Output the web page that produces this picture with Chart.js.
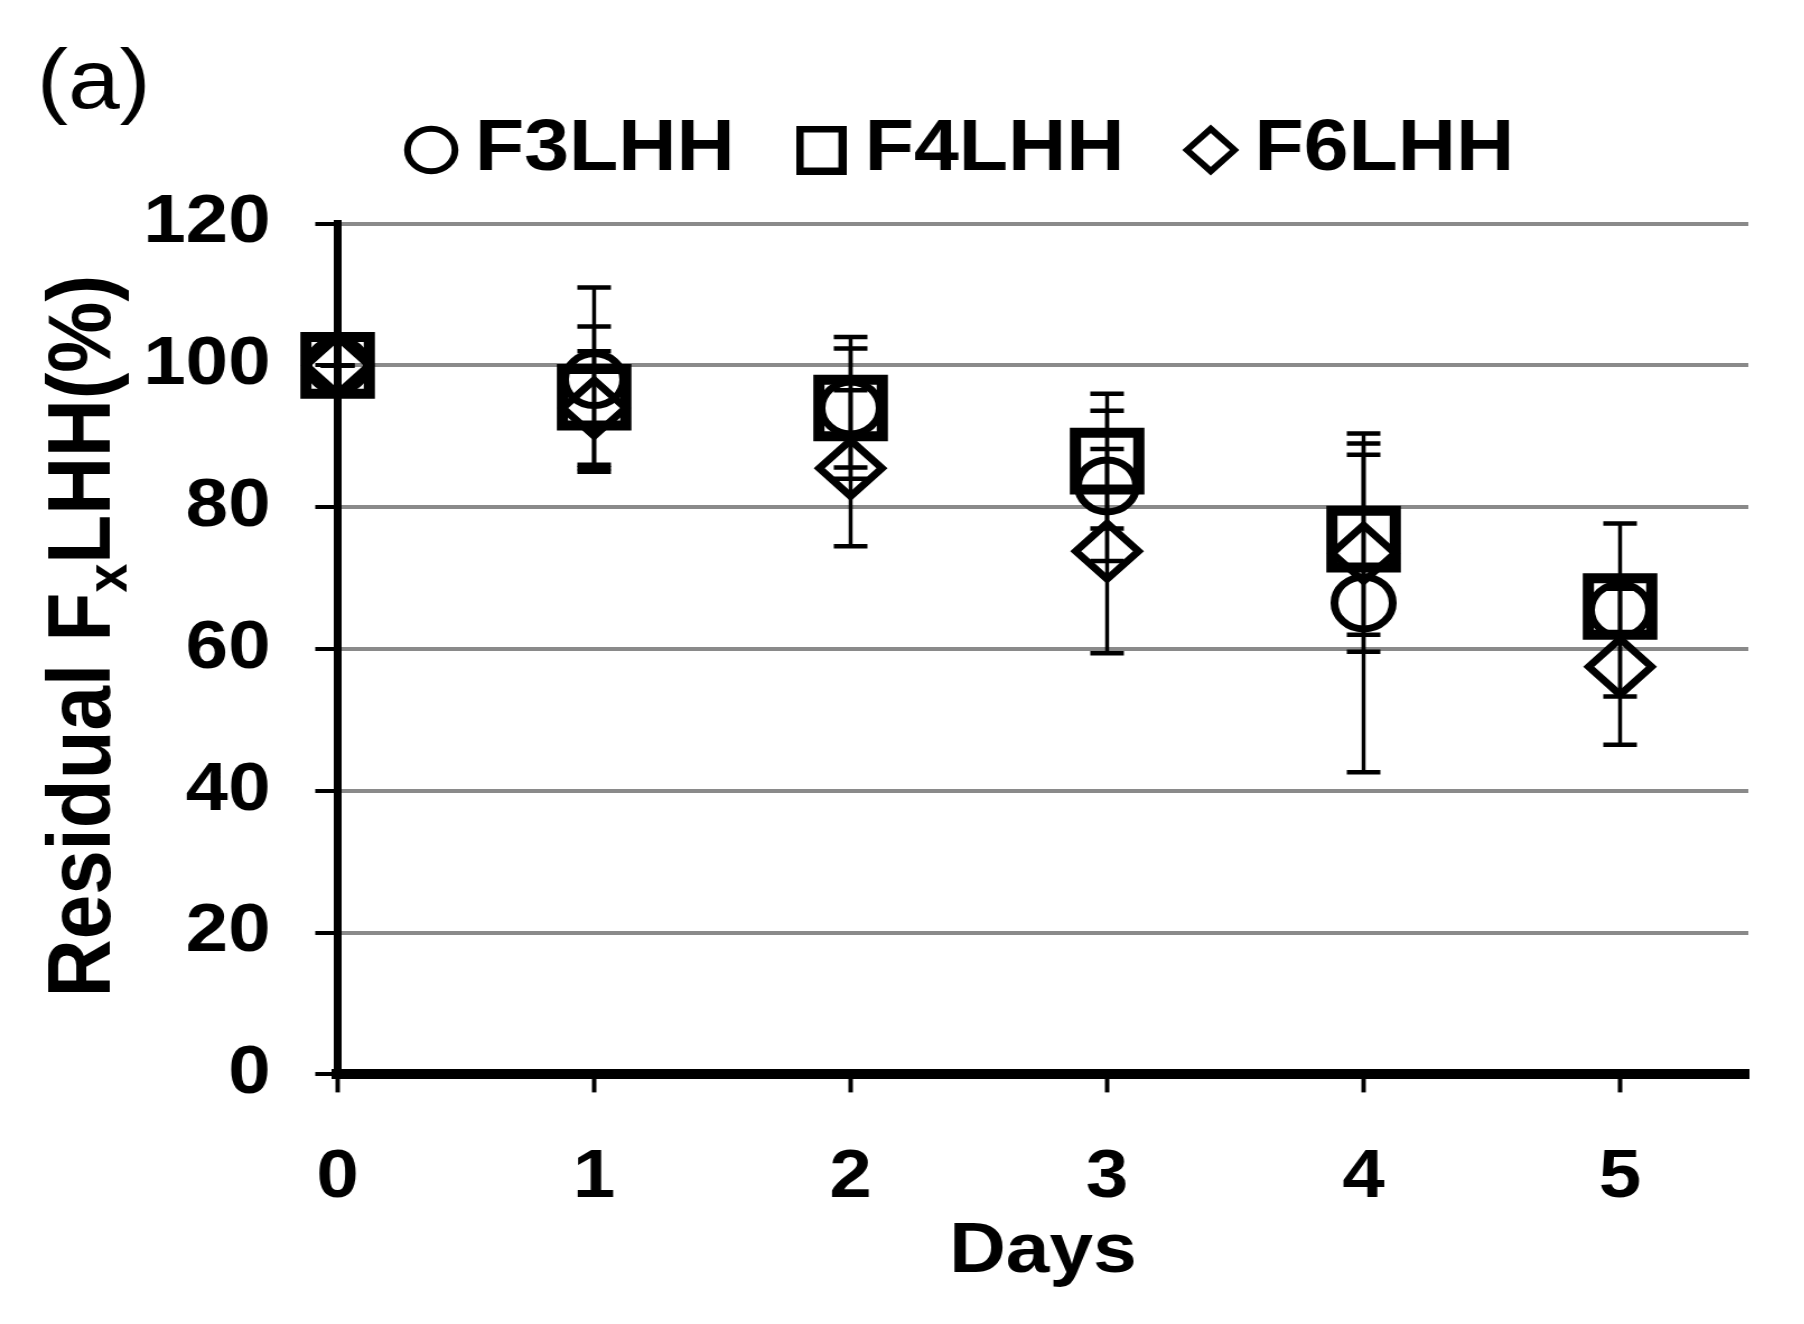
<!DOCTYPE html>
<html>
<head>
<meta charset="utf-8">
<script src="https://cdn.jsdelivr.net/npm/chart.js@4.4.1/dist/chart.umd.min.js"></script>
<style>
  html, body { margin: 0; padding: 0; background: #fff; overflow: hidden; }
  /* the original figure is stretched sideways, so the whole chart is too */
  #wrap { width: 1611px; height: 1324px; transform: scaleX(1.12); transform-origin: 0 0; }
</style>
</head>
<body>
<div id="wrap"><canvas id="chart"></canvas></div>
<script>
// Residual FxLHH (%) over days
const days = [0, 1, 2, 3, 4, 5];
const f3lhh = [100, 98, 94, 83, 66.5, 65.5];
const f3lhhErr = [0, 13, 10, 10.6, 23.9, 12.2];
const f4lhh = [100, 95.5, 94, 86.5, 75.5, 66];
const f4lhhErr = [0, 10, 8.4, 9.5, 13.5, 4];
const f6lhh = [100, 94, 85.5, 73.8, 73.5, 57.5];
const f6lhhErr = [0, 8, 11, 14.4, 13.9, 11];
const yTicks = [0, 20, 40, 60, 80, 100, 120];

const errorSets = [f3lhhErr, f4lhhErr, f6lhhErr];

Chart.defaults.font.family = "'Liberation Sans', Arial, sans-serif";
Chart.defaults.color = '#000';

function toPoints(values) {
  return days.map((d, i) => ({ x: d, y: values[i] }));
}

// bigger hollow square for the legend (built-in rect comes out too small)
function squareIcon(w, h, lw) {
  const c = document.createElement('canvas');
  c.width = w;
  c.height = h;
  const g = c.getContext('2d');
  g.strokeStyle = '#000';
  g.lineWidth = lw;
  g.strokeRect(lw / 2, lw / 2, w - lw, h - lw);
  return c;
}

// error bars (stem + caps) drawn from the scales
const errorBars = {
  id: 'errorBars',
  afterDatasetsDraw(chart) {
    const { ctx, scales: { x, y } } = chart;
    ctx.save();
    ctx.strokeStyle = '#000';
    chart.data.datasets.forEach((ds, i) => {
      const err = errorSets[i];
      ds.data.forEach((p, j) => {
        const px = x.getPixelForValue(p.x);
        const top = y.getPixelForValue(p.y + err[j]);
        const bot = y.getPixelForValue(p.y - err[j]);
        ctx.lineWidth = 3.5;
        ctx.beginPath();
        ctx.moveTo(px, top);
        ctx.lineTo(px, bot);
        ctx.stroke();
        ctx.lineWidth = 4.5;
        ctx.beginPath();
        ctx.moveTo(px - 15, top);
        ctx.lineTo(px + 15, top);
        ctx.moveTo(px - 15, bot);
        ctx.lineTo(px + 15, bot);
        ctx.stroke();
      });
    });
    ctx.restore();
  }
};

// legend sits a bit right of centre in the original
const legendShift = {
  id: 'legendShift',
  afterLayout(chart) {
    chart.legend.left += 74;
  }
};

// panel letter and y title with subscript
const extraText = {
  id: 'extraText',
  afterDraw(chart) {
    const { ctx, chartArea } = chart;
    ctx.save();
    ctx.fillStyle = '#000';
    ctx.textBaseline = 'alphabetic';
    ctx.textAlign = 'left';
    ctx.font = "83px 'Liberation Sans', Arial, sans-serif";
    ctx.fillText('(a)', 33, 108);

    const big = "bold 80px 'Liberation Sans', Arial, sans-serif";
    const small = "bold 52px 'Liberation Sans', Arial, sans-serif";
    const parts = [['Residual F', big, 0], ['x', small, 15], ['LHH(%)', big, 0]];
    let total = 0;
    parts.forEach(([t, f]) => { ctx.font = f; total += ctx.measureText(t).width; });
    const cy = (chartArea.top + chartArea.bottom) / 2 - 13;
    ctx.translate(98, cy);
    ctx.rotate(-Math.PI / 2);
    let pos = -total / 2;
    parts.forEach(([t, f, dy]) => {
      ctx.font = f;
      ctx.fillText(t, pos, dy);
      pos += ctx.measureText(t).width;
    });
    ctx.restore();
  }
};

new Chart(document.getElementById('chart'), {
  type: 'scatter',
  data: {
    datasets: [
      {
        label: 'F3LHH',
        data: toPoints(f3lhh),
        pointStyle: 'circle',
        pointRadius: 26,
        pointBorderWidth: 7,
        pointBorderColor: '#000',
        pointBackgroundColor: 'rgba(0,0,0,0)',
        clip: false,
      },
      {
        label: 'F4LHH',
        data: toPoints(f4lhh),
        pointStyle: 'rect',
        pointRadius: 40,
        pointBorderWidth: 10,
        pointBorderColor: '#000',
        pointBackgroundColor: 'rgba(0,0,0,0)',
        clip: false,
      },
      {
        label: 'F6LHH',
        data: toPoints(f6lhh),
        pointStyle: 'rectRot',
        pointRadius: 28,
        pointBorderWidth: 7,
        pointBorderColor: '#000',
        pointBackgroundColor: 'rgba(0,0,0,0)',
        clip: false,
      },
    ],
  },
  options: {
    responsive: true,
    maintainAspectRatio: false,
    animation: false,
    events: [],
    layout: {
      padding: { top: 40, left: 88, right: 39, bottom: 29 },
    },
    plugins: {
      tooltip: { enabled: false },
      legend: {
        position: 'top',
        labels: {
          usePointStyle: true,
          boxWidth: 6,
          boxHeight: 30,
          padding: 74,
          color: '#000',
          font: { size: 72, weight: 'bold' },
          generateLabels(chart) {
            const items = Chart.defaults.plugins.legend.labels.generateLabels(chart);
            items.forEach(it => {
              it.lineWidth = 6;
              it.strokeStyle = '#000';
              if (it.pointStyle === 'rect') it.pointStyle = squareIcon(45, 49, 7);
            });
            return items;
          },
        },
      },
      // empty spacer between legend and plot
      title: {
        display: true,
        text: '',
        weight: 500,
        padding: 0,
        font: { size: 23 },
      },
    },
    scales: {
      x: {
        type: 'linear',
        min: 0,
        max: 5.5,
        afterBuildTicks: axis => {
          axis.ticks = days.map(d => ({ value: d }));
        },
        ticks: {
          padding: 45,
          color: '#000',
          font: { size: 68, weight: 'bold' },
        },
        grid: {
          drawOnChartArea: false,
          drawTicks: true,
          tickLength: 18,
          tickWidth: 4,
          tickColor: '#000',
        },
        border: { display: true, width: 10, color: '#000' },
        title: {
          display: true,
          text: 'Days',
          color: '#000',
          padding: { top: -53, bottom: 0 },
          font: { size: 70, weight: 'bold' },
        },
      },
      y: {
        min: 0,
        max: 120,
        afterBuildTicks: axis => {
          axis.ticks = yTicks.map(v => ({ value: v }));
        },
        ticks: {
          padding: 40,
          color: '#000',
          font: { size: 68, weight: 'bold' },
        },
        grid: {
          color: '#8a8a8a',
          lineWidth: 4,
          drawTicks: true,
          tickLength: 20,
          tickWidth: 4,
          tickColor: '#000',
        },
        border: { display: true, width: 7, color: '#000' },
      },
    },
  },
  plugins: [errorBars, legendShift, extraText],
});
</script>
</body>
</html>
